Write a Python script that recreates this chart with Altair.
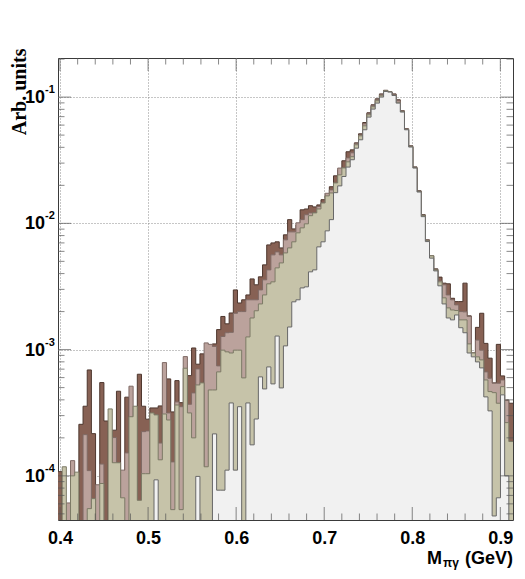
import altair as alt
import numpy as np
import pandas as pd

# ---- axis ranges / binning -------------------------------------------------
X_LO, X_HI, N_BINS = 0.3977, 0.9144, 109
Y_LO, Y_HI = 4.47e-5, 0.204
EMPTY = 1e-7  # drawn below the frame (empty bin)

# ---- histogram contents (0 = empty bin) ------------------------------------
brown = [1.08e-4, 0, 0, 0, 0, 2.56e-4, 3.56e-4, 6.9e-4, 2.16e-4, 0,
         5.48e-4, 2.72e-4, 0, 2.30e-4, 4.68e-4, 0, 4.2e-4, 0, 0, 6.38e-4,
         3.56e-4, 2.81e-4, 3.45e-4, 3.45e-4, 3.58e-4, 0, 5.86e-4, 3.21e-4, 5.68e-4, 3.80e-4,
         0, 6.22e-4, 1.03e-3, 7.66e-4, 9.25e-4, 0, 0, 1.11e-3, 1.44e-3, 1.83e-3,
         1.60e-3, 1.95e-3, 2.97e-3, 2.34e-3, 2.48e-3, 2.71e-3, 3.63e-3, 3.26e-3, 3.77e-3, 4.69e-3,
         6.75e-3, 7.0e-3, 7.14e-3, 6.39e-3, 8.11e-3, 1.07e-2, 9.04e-3, 9.73e-3, 1.28e-2, 1.30e-2,
         1.38e-2, 1.35e-2, 1.40e-2, 1.54e-2, 1.68e-2, 1.95e-2, 2.38e-2, 2.65e-2, 3.13e-2, 3.69e-2,
         3.82e-2, 4.34e-2, 5.12e-2, 6.29e-2, 7.51e-2, 8.69e-2, 9.69e-2, 0.106, 0.1132, 0.1102,
         0.106, 9.52e-2, 7.79e-2, 5.61e-2, 4.11e-2, 2.80e-2, 1.81e-2, 1.17e-2, 7.40e-3, 5.53e-3,
         4.36e-3, 3.75e-3, 3.36e-3, 3.32e-3, 2.55e-3, 2.40e-3, 2.40e-3, 3.36e-3, 1.85e-3, 9.4e-4,
         1.50e-3, 1.94e-3, 1.12e-3, 8.55e-4, 5.45e-4, 1.10e-3, 6.19e-4, 3.99e-4, 3.76e-4]

pink = [0, 0, 6.1e-5, 1.32e-4, 0, 0, 2.12e-4, 1.10e-4, 0, 8.5e-5,
        1.24e-4, 0, 0, 2.01e-4, 0, 1.11e-4, 1.52e-4, 5.13e-4, 0, 0,
        2.24e-4, 2.27e-4, 0, 3.04e-4, 1.82e-4, 7.89e-4, 3.15e-4, 1.29e-4, 3.85e-4, 3.53e-4,
        8.8e-4, 3.69e-4, 4.54e-4, 7.03e-4, 0, 1.13e-3, 1.10e-3, 1.06e-3, 7.43e-4, 1.27e-3,
        1.36e-3, 1.37e-3, 1.94e-3, 2.0e-3, 2.0e-3, 2.48e-3, 2.48e-3, 2.48e-3, 2.97e-3, 3.57e-3,
        4.28e-3, 5.63e-3, 5.94e-3, 5.63e-3, 7.40e-3, 8.56e-3, 8.56e-3, 1.01e-2, 1.07e-2, 1.17e-2,
        1.21e-2, 1.21e-2, 1.36e-2, 1.45e-2, 1.73e-2, 1.84e-2, 2.09e-2, 2.74e-2, 2.75e-2, 3.30e-2,
        3.62e-2, 4.27e-2, 5.0e-2, 6.14e-2, 7.37e-2, 8.53e-2, 9.52e-2, 0.1043, 0.1122, 0.1102,
        0.1043, 9.35e-2, 7.65e-2, 5.51e-2, 4.04e-2, 2.75e-2, 1.78e-2, 1.15e-2, 7.27e-3, 5.53e-3,
        4.28e-3, 3.50e-3, 3.26e-3, 2.71e-3, 2.48e-3, 2.26e-3, 2.0e-3, 1.99e-3, 1.83e-3, 9.4e-4,
        1.19e-3, 9.9e-4, 6.66e-4, 5.93e-4, 5.42e-4, 5.42e-4, 5.75e-4, 3.95e-4, 1.87e-4]

khaki = [0, 1.18e-4, 0, 1.0e-4, 1.07e-4, 0, 0, 5.5e-5, 6.6e-5, 0,
         8.7e-5, 0, 3.39e-4, 1.27e-4, 1.27e-4, 6.7e-5, 0, 2.94e-4, 3.56e-4, 6.4e-5,
         1.04e-4, 1.04e-4, 3.15e-4, 3.04e-4, 1.34e-4, 3.09e-4, 2.77e-4, 5.4e-5, 3.64e-4, 5.4e-5,
         7.12e-4, 3.15e-4, 2.0e-4, 5.25e-4, 5.45e-4, 1.18e-4, 4.79e-4, 4.79e-4, 6.66e-4, 9.9e-4,
         9.6e-4, 9.4e-4, 9.9e-4, 9.9e-4, 5.97e-4, 1.26e-3, 1.78e-3, 2.03e-3, 2.30e-3, 2.71e-3,
         3.32e-3, 3.44e-3, 4.44e-3, 4.86e-3, 5.83e-3, 6.39e-3, 7.14e-3, 8.41e-3, 9.21e-3, 9.91e-3,
         1.15e-2, 1.21e-2, 1.30e-2, 1.45e-2, 1.65e-2, 1.74e-2, 2.09e-2, 2.42e-2, 2.75e-2, 3.07e-2,
         3.37e-2, 4.19e-2, 4.93e-2, 5.92e-2, 7.24e-2, 8.38e-2, 9.35e-2, 0.1024, 0.1122, 0.1102,
         0.1033, 9.0e-2, 7.65e-2, 5.51e-2, 4.04e-2, 2.75e-2, 1.78e-2, 1.15e-2, 7.27e-3, 5.53e-3,
         4.28e-3, 3.44e-3, 2.57e-3, 2.14e-3, 2.06e-3, 2.04e-3, 1.72e-3, 1.72e-3, 1.11e-3, 9.4e-4,
         8.76e-4, 8.29e-4, 5.75e-4, 4.65e-4, 4.56e-4, 3.76e-4, 5.09e-4, 2.64e-4, 1.87e-4]

light = [0, 0, 0, 0, 0, 0, 0, 0, 0, 0,
         0, 0, 0, 0, 0, 0, 0, 0, 0, 0,
         0, 0, 0, 9.3e-5, 0, 0, 0, 0, 0, 0,
         0, 0, 0, 9.9e-5, 0, 0, 0, 2.15e-4, 7.7e-5, 7.7e-5,
         1.11e-4, 3.78e-4, 1.11e-4, 3.53e-4, 0, 3.78e-4, 1.76e-4, 2.82e-4, 6.08e-4, 4.88e-4,
         7.29e-4, 5.35e-4, 1.28e-3, 4.97e-4, 1.07e-3, 1.51e-3, 2.39e-3, 2.48e-3, 3.08e-3, 3.14e-3,
         4.13e-3, 4.28e-3, 6.51e-3, 7.14e-3, 8.72e-3, 1.07e-2, 1.75e-2, 1.98e-2, 2.35e-2, 2.79e-2,
         3.19e-2, 3.94e-2, 4.59e-2, 5.51e-2, 6.94e-2, 8.03e-2, 8.96e-2, 0.1, 0.1108, 0.1095,
         0.103, 8.96e-2, 7.61e-2, 5.51e-2, 4.02e-2, 2.74e-2, 1.77e-2, 1.13e-2, 7.17e-3, 5.30e-3,
         4.20e-3, 3.20e-3, 2.30e-3, 1.78e-3, 1.72e-3, 1.88e-3, 1.49e-3, 1.36e-3, 9.4e-4, 8.76e-4,
         7.99e-4, 7.16e-4, 4.22e-4, 3.27e-4, 4.81e-5, 6.7e-5, 4.38e-4, 1.0e-4, 0]

# ---- axis ticks / labels ----------------------------------------------------
x_major = [0.4, 0.5, 0.6, 0.7, 0.8, 0.9]
x_minor = [0.42, 0.44, 0.46, 0.48, 0.52, 0.54, 0.56, 0.58, 0.62, 0.64, 0.66, 0.68,
           0.72, 0.74, 0.76, 0.78, 0.82, 0.84, 0.86, 0.88]
y_major = [1e-4, 1e-3, 1e-2, 1e-1]
y_exps = ["-4", "-3", "-2", "-1"]
y_minor = [5e-5, 6e-5, 7e-5, 8e-5, 9e-5,
           2e-4, 3e-4, 4e-4, 5e-4, 6e-4, 7e-4, 8e-4, 9e-4,
           2e-3, 3e-3, 4e-3, 5e-3, 6e-3, 7e-3, 8e-3, 9e-3,
           2e-2, 3e-2, 4e-2, 5e-2, 6e-2, 7e-2, 8e-2, 9e-2, 2e-1]

edges = np.linspace(X_LO, X_HI, N_BINS + 1)

xs = alt.Scale(domain=[X_LO, X_HI], nice=False, zero=False)
ys = alt.Scale(type="log", domain=[Y_LO, Y_HI], nice=False)
GRID = dict(grid=True, gridColor="#8c8c8c", gridDash=[1, 2], gridWidth=1)
xaxis = alt.Axis(values=x_major, format=".1f", ticks=False, domain=False,
                 labelFont="Liberation Sans", labelFontWeight="bold", labelFontSize=18,
                 labelColor="black", labelPadding=9, labelFlush=False, labelOverlap=False,
                 title=None, **GRID)
yaxis = alt.Axis(values=y_major, ticks=False, domain=False, labels=False,
                 title="Arb. units", titleFont="Liberation Serif", titleFontSize=20,
                 titleFontWeight="bold", titleColor="black", titleAngle=270,
                 titleAlign="right", titleBaseline="alphabetic", titleX=-33, titleY=-10,
                 **GRID)


def X(f):
    return alt.X(f"{f}:Q", scale=xs, axis=xaxis)


def Y(f):
    return alt.Y(f"{f}:Q", scale=ys, axis=yaxis)


def step_frame(vals):
    v = [val if val > 0 else EMPTY for val in vals]
    v = v + [v[-1]]
    return pd.DataFrame({"x": edges, "v": v, "base": EMPTY})


series = [
    (brown, "#876154", "#4e372e"),
    (pink, "#bba29c", "#7f6a65"),
    (khaki, "#c6c3a9", "#7c7a66"),
    (light, "#f1f1f1", "#686868"),
]

layers = []
for vals, fill, stroke in series:
    df = step_frame(vals)
    layers.append(
        alt.Chart(df).mark_area(interpolate="step-after", color=fill, opacity=1, clip=True)
        .encode(x=X("x"), y=Y("v"), y2=alt.Y2("base:Q"))
    )
    layers.append(
        alt.Chart(df).mark_line(interpolate="step-after", color=stroke, strokeWidth=1, clip=True)
        .encode(x=X("x"), y=Y("v"))
    )

TICK_COLOR = "#555555"
for vals, size in [(x_major, 26), (x_minor, 13)]:
    tdf = pd.DataFrame({"x": vals, "ytop": Y_HI, "ybot": Y_LO})
    for yf in ["ytop", "ybot"]:
        layers.append(
            alt.Chart(tdf).mark_tick(orient="vertical", size=size, thickness=1,
                                     color=TICK_COLOR, clip=True)
            .encode(x=X("x"), y=Y(yf))
        )
for vals, size in [(y_major, 26), (y_minor, 13)]:
    tdf = pd.DataFrame({"v": vals, "xl": X_LO, "xr": X_HI})
    for xf in ["xl", "xr"]:
        layers.append(
            alt.Chart(tdf).mark_tick(orient="horizontal", size=size, thickness=1,
                                     color=TICK_COLOR, clip=True)
            .encode(x=X(xf), y=Y("v"))
        )

# y tick labels as 10^n
ylab = pd.DataFrame({"v": y_major, "xl": X_LO, "exp": y_exps, "mant": ["10"] * 4})
layers.append(
    alt.Chart(ylab).mark_text(align="right", baseline="middle", dx=-13, dy=1,
                              font="Liberation Sans", fontWeight="bold", fontSize=18, color="black")
    .encode(x=X("xl"), y=Y("v"), text="mant:N")
)
layers.append(
    alt.Chart(ylab).mark_text(align="left", baseline="middle", dx=-13, dy=-7,
                              font="Liberation Sans", fontWeight="bold", fontSize=11, color="black")
    .encode(x=X("xl"), y=Y("v"), text="exp:N")
)

# x title  M_{pi gamma} (GeV)
tpos = pd.DataFrame({"x": [X_HI], "v": [Y_LO]})
layers.append(
    alt.Chart(tpos).mark_text(text="(GeV)", align="right", baseline="alphabetic", dx=0, dy=44,
                              font="Liberation Sans", fontWeight="bold", fontSize=18, color="black")
    .encode(x=X("x"), y=Y("v"))
)
layers.append(
    alt.Chart(tpos).mark_text(text="πγ", align="left", baseline="alphabetic", dx=-70, dy=47,
                              font="Liberation Sans", fontWeight="bold", fontSize=12, color="black")
    .encode(x=X("x"), y=Y("v"))
)
layers.append(
    alt.Chart(tpos).mark_text(text="M", align="right", baseline="alphabetic", dx=-71, dy=44,
                              font="Liberation Sans", fontWeight="bold", fontSize=18, color="black")
    .encode(x=X("x"), y=Y("v"))
)

chart = (
    alt.layer(*layers)
    .properties(width=455, height=462, autosize=alt.AutoSizeParams(type="none"),
                padding={"left": 50, "top": 50, "right": 4, "bottom": 50},
                background="white")
    .configure_view(stroke="#3a3a3a", strokeWidth=1)
)

chart.save("out.html", embed_options={"renderer": "svg", "actions": False})
